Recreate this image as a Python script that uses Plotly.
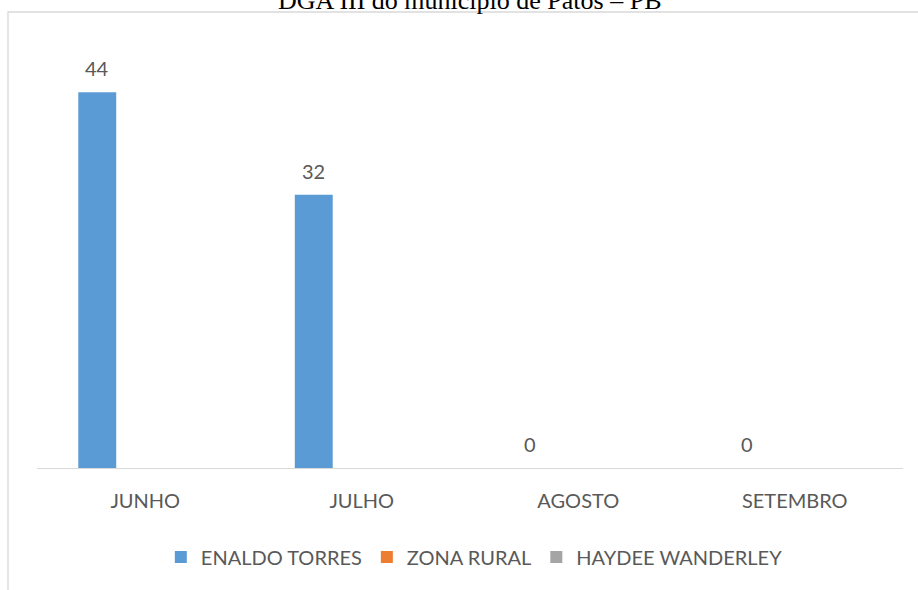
import plotly.graph_objects as go

categories = ["JUNHO", "JULHO", "AGOSTO", "SETEMBRO"]
enaldo_torres = [44, 32, 0, 0]
zona_rural = [None, None, None, None]
haydee_wanderley = [None, None, None, None]
series_names = ["ENALDO TORRES", "ZONA RURAL", "HAYDEE WANDERLEY"]
colors = ["#5B9BD5", "#ED7D31", "#A5A5A5"]
title_text = "DGA III do município de Patos – PB"

W, H = 918, 590
ML, MR, MT, MB = 37, 15, 41, 122
plot_w = W - ML - MR
plot_h = H - MT - MB
BARGAP = 0.335
FONT = "Lato"
TXT = "#595959"

fig = go.Figure()
for name, vals, col in zip(series_names, [enaldo_torres, zona_rural, haydee_wanderley], colors):
    fig.add_trace(go.Bar(x=categories, y=vals, name=name, marker_color=col,
                         marker_line_width=0))

cat_px = plot_w / len(categories)
slot_px = (1 - BARGAP) * cat_px / 3
annotations = []
for c, v in zip(categories, enaldo_torres):
    annotations.append(dict(x=c, y=v, xref="x", yref="y", text=str(v), showarrow=False,
                            xshift=-slot_px, yshift=24, yanchor="middle",
                            font=dict(family=FONT, size=20, color=TXT)))
annotations.append(dict(x=0.5, y=(H - MB - 1) / plot_h,
                        xref="paper", yref="paper", text=title_text, showarrow=False,
                        yanchor="middle", font=dict(family="Liberation Serif", size=26, color="#000000")))

fig.update_layout(
    width=W, height=H,
    margin=dict(l=ML, r=MR, t=MT, b=MB),
    paper_bgcolor="white", plot_bgcolor="white",
    barmode="group", bargap=BARGAP, bargroupgap=0.21,
    showlegend=True,
    legend=dict(orientation="h", x=0.505, xanchor="center", y=(H - MB - 557) / plot_h, yanchor="middle",
                font=dict(family=FONT, size=20, color=TXT), itemclick=False),
    annotations=annotations,
    shapes=[dict(type="rect", xref="paper", yref="paper",
                 x0=(8 - ML) / plot_w, x1=(W + 10 - ML) / plot_w,
                 y0=-1, y1=(H - MB - 12) / plot_h,
                 line=dict(color="#D9D9D9", width=1.3), fillcolor="rgba(0,0,0,0)", layer="below")],
    xaxis=dict(showline=True, linecolor="#D9D9D9", linewidth=1.3, showgrid=False,
               ticks="outside", ticklen=15, tickcolor="rgba(0,0,0,0)",
               tickfont=dict(family=FONT, size=20, color=TXT)),
    yaxis=dict(range=[0, 50], visible=False, showgrid=False),
)

fig.write_html("out.html")
